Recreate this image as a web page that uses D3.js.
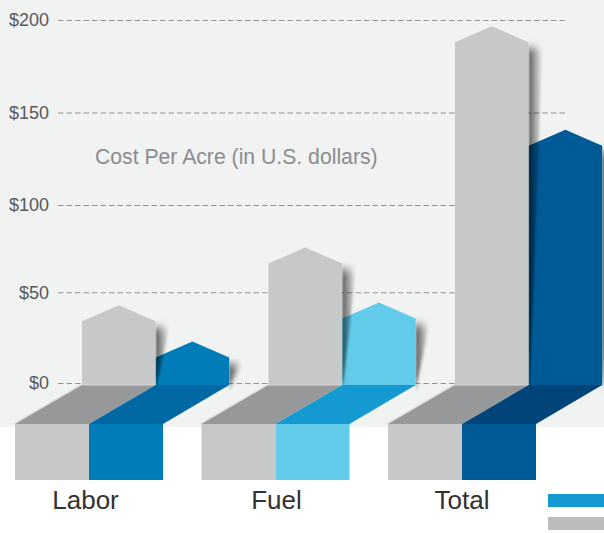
<!DOCTYPE html>
<html>
<head>
<meta charset="utf-8">
<script src="https://cdn.jsdelivr.net/npm/d3@7"></script>
<style>
  html, body { margin: 0; padding: 0; background: #fff; }
  svg { display: block; font-family: "Liberation Sans", Arial, sans-serif; }
</style>
</head>
<body>
<svg id="chart" width="604" height="533"></svg>
<script>
var categories = ["Labor", "Fuel", "Total"];
var grayValues = [34, 66.5, 188];
var blueValues = [14, 35.5, 132];
var tickValues = [0, 50, 100, 150, 200];
var seriesNames = ["gray", "blue"];
var labelNudge = [-3.5, 1, 0];
var title = "Cost Per Acre (in U.S. dollars)";

var width = 604, height = 533;
var panelBottom = 427, baseY = 385, frontTop = 424, frontBottom = 480;
var skew = 67, barWidth = 73.6, frontWidth = 74, roof = 16, shadowWidth = 14;

// the art department's gridlines are not evenly spaced, so the scale has a knot per tick
var y = d3.scaleLinear().domain(tickValues).range([383, 292.3, 205, 112.5, 20]);
var x = d3.scalePoint().domain(categories).range([15, 388]);
var inner = d3.scaleBand().domain(seriesNames).range([0, barWidth * 2]);
var front = d3.scaleBand().domain(seriesNames).range([0, frontWidth * 2]);

var barColors = ["#007db8", "#62cbea", "#005a96"];
var floorColors = ["#0069a3", "#149ad0", "#00447a"];
var gray = "#c7c9c8", grayFloor = "#97989a";

var svg = d3.select("#chart");
var line = d3.line();

var defs = svg.append("defs");
var grad = defs.append("linearGradient").attr("id", "shadowFade");
grad.append("stop").attr("offset", "0%").attr("stop-color", "#000").attr("stop-opacity", 0.62);
grad.append("stop").attr("offset", "100%").attr("stop-color", "#000").attr("stop-opacity", 0);
defs.append("filter").attr("id", "soft")
    .attr("x", "-50%").attr("width", "200%").attr("y", "-20%").attr("height", "140%")
  .append("feGaussianBlur").attr("stdDeviation", "1.2 4");

svg.append("rect")
    .attr("width", width).attr("height", panelBottom)
    .attr("fill", "#f1f2f2");

var axis = svg.append("g")
    .attr("transform", "translate(58,0)")
    .call(d3.axisLeft(y).tickValues(tickValues).tickSize(-507).tickPadding(9)
      .tickFormat(function (d) { return "$" + d; }));
axis.select(".domain").remove();
axis.selectAll("line")
    .attr("stroke", "#939495")
    .attr("stroke-dasharray", "5.5,3");
axis.selectAll("text")
    .attr("font-size", 18)
    .attr("font-family", "Liberation Sans")
    .attr("fill", "#58595b");

svg.append("text")
    .attr("x", 95).attr("y", 164)
    .attr("font-size", 21.2)
    .attr("fill", "#8a8c8e")
    .text(title);

function drawBar(left, value, color) {
  var top = y(value), right = left + barWidth;
  svg.append("path")
      .attr("d", line([[right, top + 6], [right + shadowWidth, top + 6], [right + 1, baseY], [right, baseY]]) + "Z")
      .attr("fill", "url(#shadowFade)")
      .attr("filter", "url(#soft)");
  svg.append("path")
      .attr("d", line([[left, baseY], [left, top], [left + barWidth / 2, top - roof], [right, top], [right, baseY]]) + "Z")
      .attr("fill", color);
}

function drawFloor(topLeft, bottomLeft, color, edge) {
  svg.append("path")
      .attr("d", line([[topLeft, baseY], [topLeft + barWidth, baseY], [bottomLeft + frontWidth, frontTop], [bottomLeft, frontTop]]) + "Z")
      .attr("fill", color);
  if (edge) {
    svg.append("path")
        .attr("d", line([[bottomLeft - 1.5, frontTop], [topLeft - 1.5, baseY], [topLeft + barWidth, baseY]]))
        .attr("fill", "none")
        .attr("stroke", "#d4d5d5")
        .attr("stroke-width", 1);
  }
}

categories.forEach(function (c, i) {
  var grayTop = x(c) + skew + inner("gray");
  var blueTop = x(c) + skew + inner("blue");
  var grayLeft = x(c) + front("gray");
  var blueLeft = x(c) + front("blue");

  // blue goes first so the gray bar's shadow falls across it
  drawBar(blueTop, blueValues[i], barColors[i]);
  drawBar(grayTop, grayValues[i], gray);

  drawFloor(grayTop, grayLeft, grayFloor, true);
  drawFloor(blueTop, blueLeft, floorColors[i], false);

  svg.append("rect")
      .attr("x", grayLeft).attr("y", frontTop)
      .attr("width", front.bandwidth()).attr("height", frontBottom - frontTop)
      .attr("fill", gray);
  svg.append("rect")
      .attr("x", blueLeft).attr("y", frontTop)
      .attr("width", front.bandwidth()).attr("height", frontBottom - frontTop)
      .attr("fill", barColors[i]);

  svg.append("text")
      .attr("x", blueLeft + labelNudge[i]).attr("y", 509)
      .attr("text-anchor", "middle")
      .attr("font-size", 26)
      .attr("fill", "#333132")
      .text(c);
});

// legend swatches, the original has no names next to them
svg.append("rect").attr("x", 548).attr("y", 494).attr("width", 56).attr("height", 13).attr("fill", "#149ad0");
svg.append("rect").attr("x", 548).attr("y", 517).attr("width", 56).attr("height", 13).attr("fill", "#bbbcbc");
</script>
</body>
</html>
